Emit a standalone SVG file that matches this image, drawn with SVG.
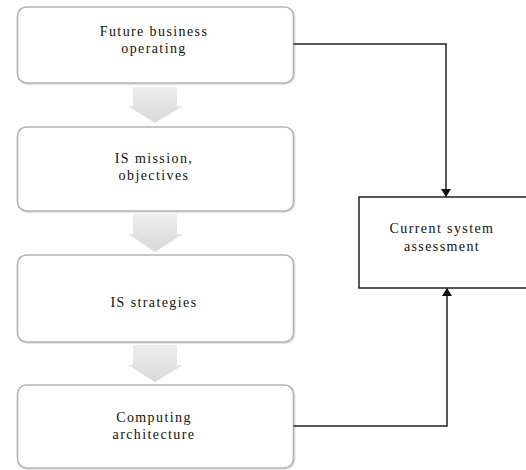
<svg xmlns="http://www.w3.org/2000/svg" width="526" height="470" viewBox="0 0 526 470">
<style>
.box{fill:#ffffff;stroke:#b4b4b4;stroke-width:1.6}
.shadow{fill:none;stroke:#e4e4e4;stroke-width:2}
.t{font-family:"Liberation Serif","DejaVu Serif","Times New Roman",serif;font-size:14px;letter-spacing:1.4px;fill:#111;text-anchor:middle}
.blk{fill:none;stroke:#222;stroke-width:1.5}
.conn{fill:none;stroke:#222;stroke-width:1.5}
.arr{fill:url(#ag)}
</style>
<defs>
<linearGradient id="ag" x1="0" y1="0" x2="0" y2="1">
<stop offset="0" stop-color="#eeeeee"/>
<stop offset="1" stop-color="#d8d8d8"/>
</linearGradient>
<marker id="ah" markerWidth="10" markerHeight="10" refX="8" refY="5" orient="auto" markerUnits="userSpaceOnUse" viewBox="0 0 10 10">
<path d="M0,0 L8,5 L0,10 Z" fill="#111"/>
</marker>
</defs>
<g id="arrows-flow">
<path class="arr" d="M133,87 H177 V106 H183 L155,123 L128,106 H133 Z"/>
<path class="arr" d="M133,214 H177 V234 H183 L155,252 L128,234 H133 Z"/>
<path class="arr" d="M133,345 H177 V365 H183 L155,382 L128,365 H133 Z"/>
</g>
<g id="n1">
<rect class="shadow" x="18.5" y="8" width="276" height="76" rx="9"/>
<rect class="box" x="17.5" y="7" width="276" height="76" rx="9"/>
<text class="t" x="154" y="36">Future business</text>
<text class="t" x="154" y="53">operating</text>
</g>
<g id="n2">
<rect class="shadow" x="18.5" y="128" width="276" height="84" rx="9"/>
<rect class="box" x="17.5" y="127" width="276" height="84" rx="9"/>
<text class="t" x="154" y="163">IS mission,</text>
<text class="t" x="154" y="180">objectives</text>
</g>
<g id="n3">
<rect class="shadow" x="18.5" y="256" width="276" height="87" rx="9"/>
<rect class="box" x="17.5" y="255" width="276" height="87" rx="9"/>
<text class="t" x="154" y="307">IS strategies</text>
</g>
<g id="n4">
<rect class="shadow" x="18.5" y="386" width="276" height="83" rx="9"/>
<rect class="box" x="17.5" y="385" width="276" height="83" rx="9"/>
<text class="t" x="154" y="422">Computing</text>
<text class="t" x="154" y="439">architecture</text>
</g>
<g id="n5">
<rect class="blk" x="359" y="197" width="180" height="91" fill="#fff"/>
<text class="t" x="442" y="233">Current system</text>
<text class="t" x="442" y="251">assessment</text>
</g>
<g id="connectors">
<polyline class="conn" points="293.5,44 446,44 446,197" marker-end="url(#ah)"/>
<polyline class="conn" points="293.5,426 447,426 447,288" marker-end="url(#ah)"/>
</g>
</svg>
